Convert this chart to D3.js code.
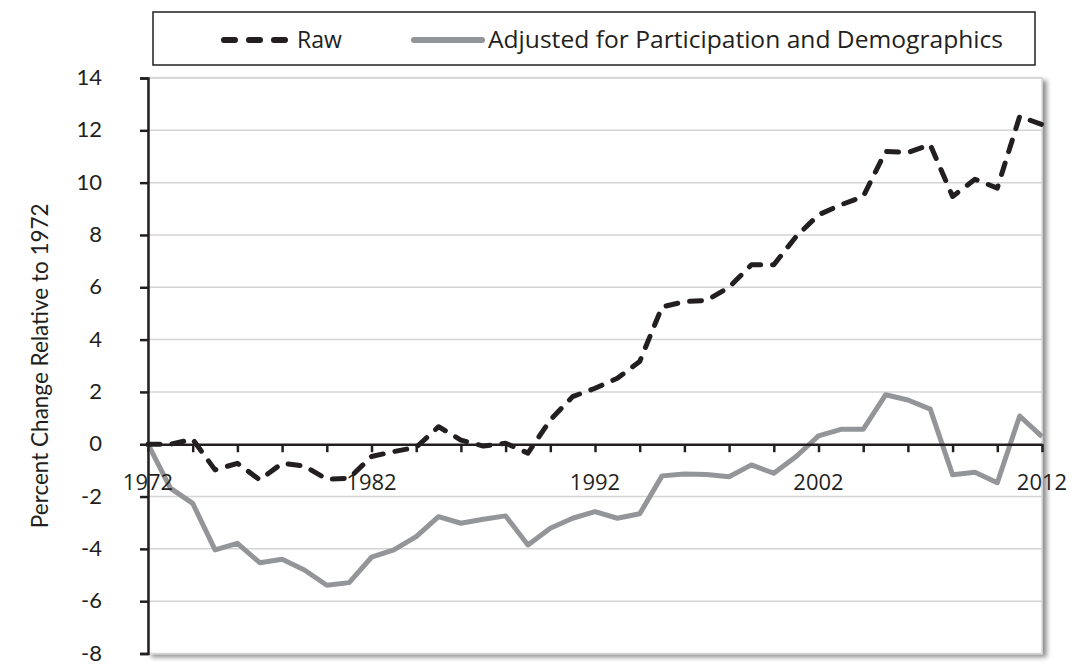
<!DOCTYPE html>
<html>
<head>
<meta charset="utf-8">
<script src="https://cdn.jsdelivr.net/npm/d3@7"></script>
<style>
  body { margin: 0; background: #fff; }
  svg { display: block; }
</style>
</head>
<body>
<div id="chart"></div>
<script>
/* global d3 */
// values, one per year 1972..2012
let years = d3.range(1972, 2013);
let rawValues = [0, 0, 0.19, -0.98, -0.73, -1.36, -0.73, -0.83, -1.34, -1.3,
  -0.47, -0.28, -0.12, 0.67, 0.16, -0.07, 0.04, -0.34, 0.93, 1.82,
  2.14, 2.52, 3.16, 5.25, 5.45, 5.5, 6.0, 6.86, 6.86, 7.94,
  8.77, 9.15, 9.47, 11.19, 11.15, 11.45, 9.47, 10.13, 9.79, 12.53, 12.22];
let adjustedValues = [0, -1.68, -2.26, -4.04, -3.79, -4.53, -4.4, -4.81, -5.39, -5.29,
  -4.32, -4.04, -3.53, -2.77, -3.02, -2.87, -2.74, -3.85, -3.21, -2.83,
  -2.58, -2.83, -2.66, -1.21, -1.14, -1.16, -1.24, -0.79, -1.11, -0.47,
  0.32, 0.57, 0.57, 1.89, 1.69, 1.34, -1.17, -1.07, -1.47, 1.08, 0.29];
let yTicks = d3.range(-8, 15, 2);
let xTicks = d3.range(1972, 2013, 2);
let xLabels = [1972, 1982, 1992, 2002, 2012];
let seriesNames = ["Raw", "Adjusted for Participation and Demographics"];

let width = 1084, height = 664;
let svg = d3.select("#chart").append("svg")
  .attr("width", width)
  .attr("height", height);

let x = d3.scaleLinear().domain([1972, 2012]).range([148, 1042]);
let y = d3.scaleLinear().domain([-8, 14]).range([653.5, 78]);

// soft shadow for the plot frame
let defs = svg.append("defs");
let shadow = defs.append("filter").attr("id", "shadow")
  .attr("x", "-5%").attr("y", "-5%").attr("width", "110%").attr("height", "110%");
shadow.append("feGaussianBlur").attr("in", "SourceAlpha").attr("stdDeviation", 2.5);
shadow.append("feOffset").attr("dx", 4).attr("dy", 3).attr("result", "off");
shadow.append("feComponentTransfer").append("feFuncA").attr("type", "linear").attr("slope", 0.45);
let merge = shadow.append("feMerge");
merge.append("feMergeNode");
merge.append("feMergeNode").attr("in", "SourceGraphic");

svg.append("rect")
  .attr("x", x(1972)).attr("y", y(14))
  .attr("width", x(2012) - x(1972)).attr("height", y(-8) - y(14))
  .attr("fill", "#fff")
  .attr("stroke", "#d4d4d4")
  .attr("stroke-width", 1.5)
  .attr("filter", "url(#shadow)");

// gridlines
svg.append("g")
  .selectAll("line")
  .data(yTicks.filter(d => d != 0 && d != -8))
  .enter().append("line")
  .attr("x1", x(1972)).attr("x2", x(2012))
  .attr("y1", d => y(d)).attr("y2", d => y(d))
  .attr("stroke", "#d4d4d4")
  .attr("stroke-width", 1.5);

// y axis
let yAxis = svg.append("g")
  .attr("transform", `translate(${x(1972)},0)`)
  .call(d3.axisLeft(y).tickValues(yTicks).tickSize(8).tickSizeOuter(8).tickPadding(38));
yAxis.select(".domain").attr("stroke", "#231f20").attr("stroke-width", 2.5);
yAxis.selectAll(".tick line").attr("stroke", "#231f20").attr("stroke-width", 2.5);
yAxis.selectAll("text")
  .attr("fill", "#231f20")
  .attr("dy", "0.3em")
  .style("font-family", "Lato, 'Open Sans', sans-serif")
  .style("font-size", "22px")
  .text(d => d < 0 ? "-" + Math.abs(d) : d);

svg.append("text")
  .attr("transform", `translate(40,${y(3)}) rotate(-90)`)
  .attr("text-anchor", "middle")
  .attr("dy", "0.35em")
  .attr("fill", "#231f20")
  .style("font-family", "Lato, 'Open Sans', sans-serif")
  .style("font-size", "22.5px")
  .text("Percent Change Relative to 1972");

// lines
let line = d3.line()
  .x((d, i) => x(years[i]))
  .y(d => y(d));

svg.append("path")
  .datum(adjustedValues)
  .attr("d", line)
  .attr("fill", "none")
  .attr("stroke", "#939598")
  .attr("stroke-width", 5)
  .attr("stroke-linejoin", "round");

// x axis on the zero line
let xAxis = svg.append("g")
  .attr("transform", `translate(0,${y(0)})`)
  .call(d3.axisBottom(x).tickValues(xTicks).tickSize(8).tickSizeOuter(0).tickFormat(""));
xAxis.select(".domain").attr("stroke", "#231f20").attr("stroke-width", 2.5);
xAxis.selectAll(".tick line").attr("stroke", "#231f20").attr("stroke-width", 2.5);

svg.append("g")
  .selectAll("text")
  .data(xLabels)
  .enter().append("text")
  .attr("x", d => x(d))
  .attr("y", y(0) + 46)
  .attr("text-anchor", "middle")
  .attr("fill", "#231f20")
  .style("font-family", "'Open Sans', sans-serif")
  .style("font-size", "22px")
  .text(d => d);

svg.append("path")
  .datum(rawValues)
  .attr("d", line)
  .attr("fill", "none")
  .attr("stroke", "#231f20")
  .attr("stroke-width", 5)
  .attr("stroke-linecap", "round")
  .attr("stroke-linejoin", "round")
  .attr("stroke-dasharray", "12,12");

// legend
let legend = svg.append("g");
legend.append("rect")
  .attr("x", 153).attr("y", 12)
  .attr("width", 882).attr("height", 53)
  .attr("fill", "#fff")
  .attr("stroke", "#231f20")
  .attr("stroke-width", 1.5);

legend.append("line")
  .attr("x1", 224).attr("x2", 288).attr("y1", 40).attr("y2", 40)
  .attr("stroke", "#231f20").attr("stroke-width", 6)
  .attr("stroke-linecap", "round").attr("stroke-dasharray", "11,14");
legend.append("line")
  .attr("x1", 414).attr("x2", 482).attr("y1", 40).attr("y2", 40)
  .attr("stroke", "#939598").attr("stroke-width", 6)
  .attr("stroke-linecap", "round");

legend.selectAll("text.lbl")
  .data(seriesNames)
  .enter().append("text")
  .attr("class", "lbl")
  .attr("x", (d, i) => i == 0 ? 297 : 488)
  .attr("y", 40)
  .attr("dy", "0.35em")
  .attr("fill", "#231f20")
  .style("font-family", "'Open Sans', sans-serif")
  .style("font-size", "23px")
  .attr("textLength", (d, i) => i == 0 ? null : 515)
  .attr("lengthAdjust", "spacingAndGlyphs")
  .text(d => d);
</script>
</body>
</html>
